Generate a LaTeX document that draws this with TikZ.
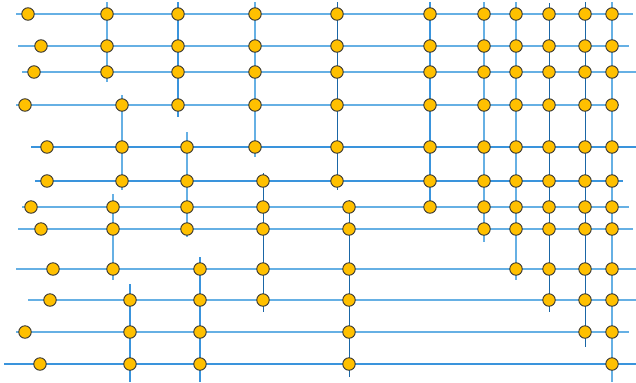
\documentclass[tikz,border=0pt]{standalone}
\usetikzlibrary{positioning}
\definecolor{clight}{HTML}{66B0E4}
\definecolor{cmid}{HTML}{3A94DC}
\definecolor{cdark}{HTML}{1A66A6}
\definecolor{cdot}{HTML}{FFC000}
\tikzset{
  dot/.style={circle, draw=black!80, fill=cdot, line width=0.9bp, minimum size=12.5bp, inner sep=0pt},
  wlight/.style={draw=clight, line width=1.7bp},
  wmid/.style={draw=cmid, line width=1.15bp},
  wdark/.style={draw=cdark, line width=0.8bp},
}

\begin{document}
\begin{tikzpicture}[x=1bp, y=-1bp]
  \useasboundingbox (0,0) rectangle (636,382);
  % vertical wires: x/top/bottom/style
  \foreach \x/\t/\b/\w in {107/2/82/wlight, 178/2/117/wmid, 255/2/157/wlight, 337/2/190/wdark,
      430/2/213/wmid, 484/2/242/wlight, 516/2/280/wlight, 549/3/312/wdark, 585/2/347/wdark,
      612/2/382/wlight, 122/95/190/wlight, 187/132/237/wlight, 263/173/312/wdark,
      349/200/377/wdark, 113/194/280/wlight, 130/284/382/wmid, 200/257/382/wmid} {
    \coordinate (vt\x) at (\x,\t);
    \coordinate (vb\x) at (\x,\b);
    \draw[\w] (vt\x) -- (vb\x);
  }
  % horizontal wires with their dots: row/y/start/end/style/dots
  \foreach \r/\y/\s/\e/\w/\xs in {
      1/14/16/633/wlight/{28,107,178,255,337,430,484,516,549,585,612},
      2/46/18/629/wlight/{41,107,178,255,337,430,484,516,549,585,612},
      3/72/22/636/wlight/{34,107,178,255,337,430,484,516,549,585,612},
      4/105/16/619/wlight/{25,122,178,255,337,430,484,516,549,585,612},
      5/147/31/636/wmid/{47,122,187,255,337,430,484,516,549,585,612},
      6/181/35/623/wmid/{47,122,187,263,337,430,484,516,549,585,612},
      7/207/22/629/wlight/{31,113,187,263,349,430,484,516,549,585,612},
      8/229/18/633/wlight/{41,113,187,263,349,484,516,549,585,612},
      9/269/16/636/wlight/{53,113,200,263,349,516,549,585,612},
      10/300/28/636/wlight/{50,130,200,263,349,549,585,612},
      11/332/16/629/wlight/{25,130,200,349,585,612},
      12/364/4/636/wmid/{40,130,200,349,612}} {
    \coordinate (hs\r) at (\s,\y);
    \coordinate (he\r) at (\e,\y);
    \draw[\w] (hs\r) -- (he\r);
    \foreach \x in \xs \node[dot] (d\r-\x) at (\x,\y) {};
  }
\end{tikzpicture}
\end{document}
